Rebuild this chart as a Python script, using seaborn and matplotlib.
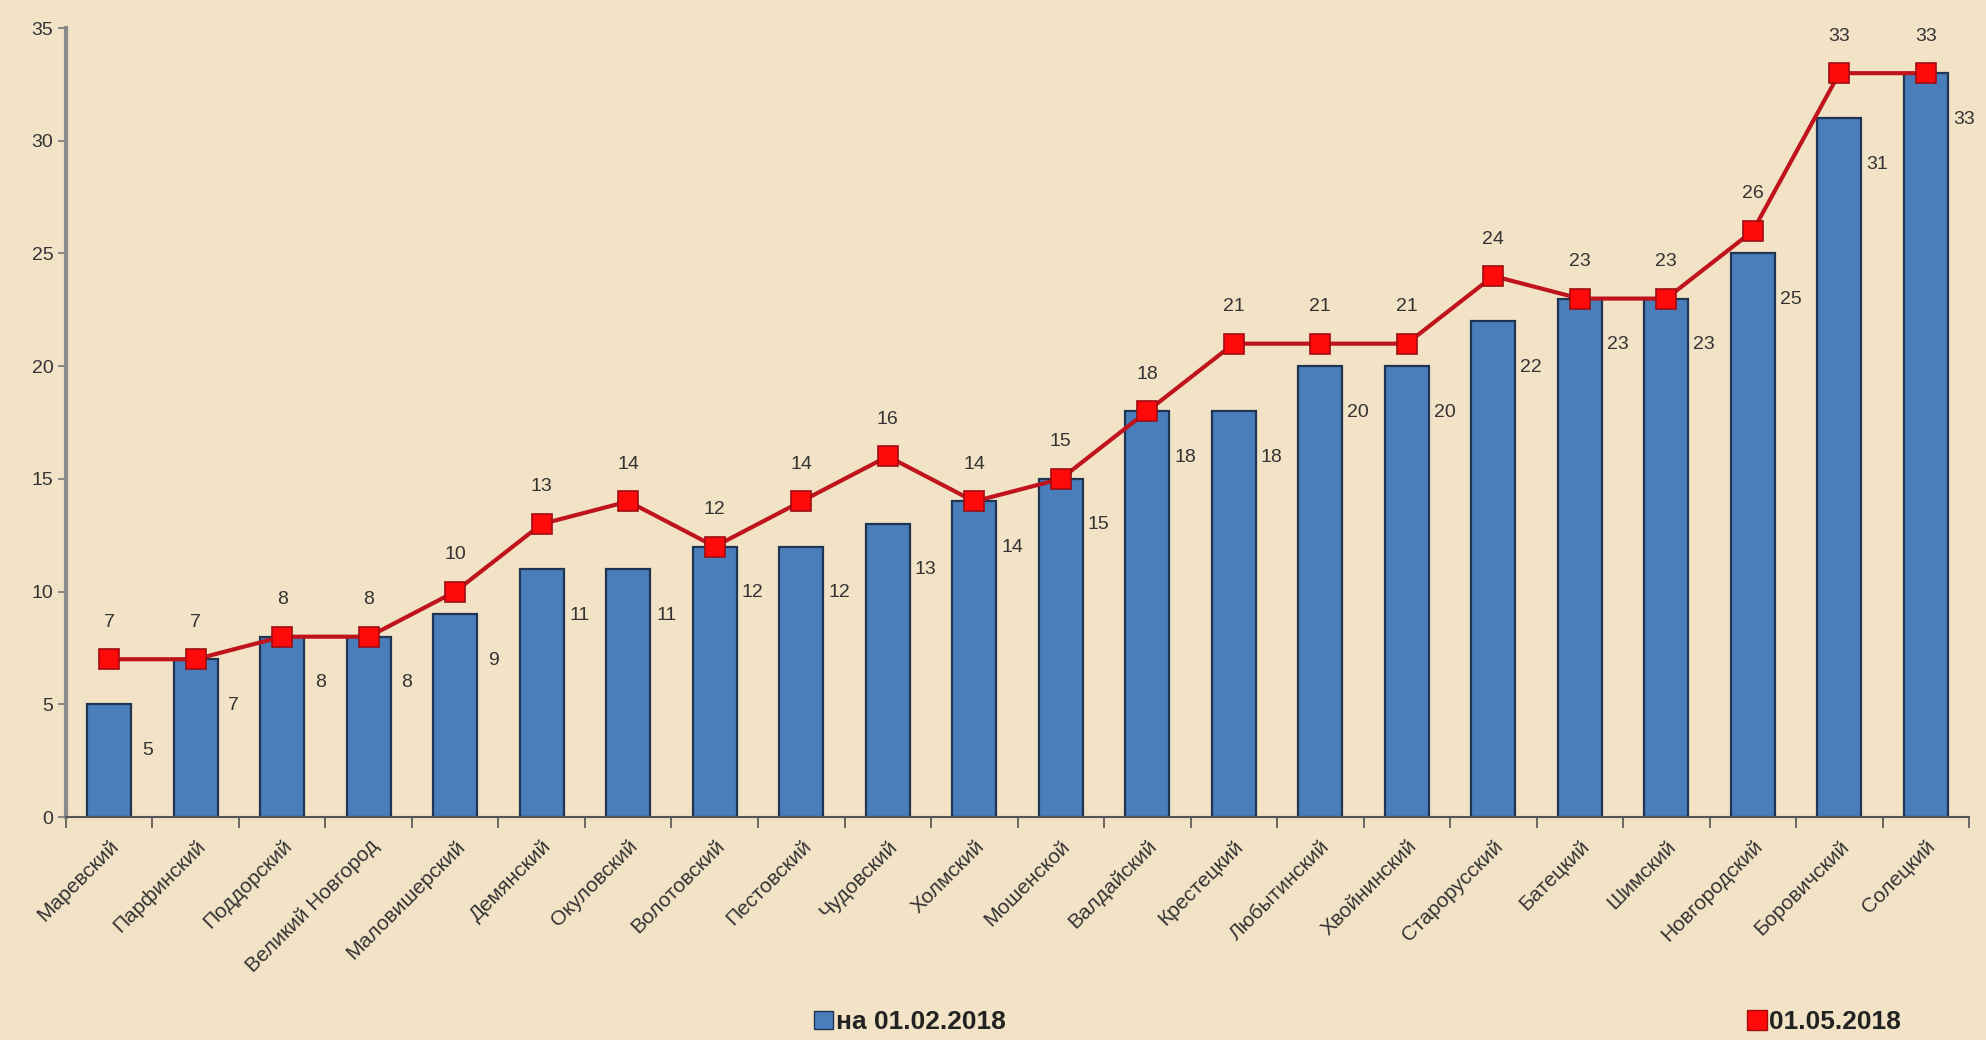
import numpy as np
import matplotlib
matplotlib.use('Agg')
import matplotlib.pyplot as plt
import seaborn as sb
from matplotlib.lines import Line2D
from matplotlib.patches import Patch

districts = ['Маревский', 'Парфинский', 'Поддорский', 'Великий Новгород',
             'Маловишерский', 'Демянский', 'Окуловский', 'Волотовский',
             'Пестовский', 'Чудовский', 'Холмский', 'Мошенской', 'Валдайский',
             'Крестецкий', 'Любытинский', 'Хвойнинский', 'Старорусский',
             'Батецкий', 'Шимский', 'Новгородский', 'Боровичский', 'Солецкий']
feb_vals = [5, 7, 8, 8, 9, 11, 11, 12, 12, 13, 14, 15, 18, 18, 20, 20, 22, 23, 23, 25, 31, 33]
may_vals = [7, 7, 8, 8, 10, 13, 14, 12, 14, 16, 14, 15, 18, 21, 21, 21, 24, 23, 23, 26, 33, 33]
series_names = ['на 01.02.2018', '01.05.2018']

bg = '#f2e3c6'
sb.set_style('white')
plt.rcParams['font.family'] = ['Liberation Sans', 'DejaVu Sans']

fig = plt.figure(figsize=(19.86, 10.40), dpi=100, facecolor=bg)
ax = fig.add_axes([0.0332, 0.2144, 0.9583, 0.7586])
ax.set_facecolor('none')

# bars
sb.barplot(x=districts, y=feb_vals, color='#4a7ebb', width=0.51,
           edgecolor='#1e3554', linewidth=1.6, saturation=1, ax=ax)

# line with square markers
xs = np.arange(len(districts))
sb.lineplot(x=xs, y=may_vals, color='#c0141c', linewidth=3, marker='s',
            markersize=15, markerfacecolor='#ff0a0a', markeredgecolor='#a00c12',
            markeredgewidth=1.2, ax=ax, zorder=5)

# value labels
for i, v in enumerate(feb_vals):
    ax.annotate(str(v), (i, v), xytext=(38, -46), textcoords='offset pixels',
                ha='center', va='center', fontsize=14, color='#333333')
for i, v in enumerate(may_vals):
    ax.annotate(str(v), (i, v), xytext=(0, 37), textcoords='offset pixels',
                ha='center', va='center', fontsize=14, color='#333333')

ax.set_xlim(-0.5, len(districts) - 0.5)
ax.set_ylim(0, 35)
ax.set_yticks(range(0, 36, 5))
ax.tick_params(axis='y', labelsize=14, labelcolor='#333333', length=6,
               color='#777777', direction='out', left=True, width=1.2, pad=3)

# category ticks sit between bars
ax.set_xticks(xs)
ax.set_xticklabels(districts, rotation=45, ha='right', rotation_mode='anchor',
                   fontsize=15, color='#333333')
ax.tick_params(axis='x', which='major', length=0, pad=14)
ax.set_xticks(np.arange(-0.5, len(districts), 1), minor=True)
ax.tick_params(axis='x', which='minor', length=8, color='#555555', width=1.2,
               bottom=True)

for s in ['top', 'right']:
    ax.spines[s].set_visible(False)
ax.spines['left'].set_color('#8a8a8a')
ax.spines['left'].set_linewidth(3)
ax.spines['bottom'].set_color('#555555')
ax.spines['bottom'].set_linewidth(1.5)

# legend entries placed apart along the bottom
h1 = Patch(facecolor='#4a7ebb', edgecolor='#1e3554', label=series_names[0])
h2 = Line2D([], [], color='#c0141c', marker='s', markersize=14,
            markerfacecolor='#ff0a0a', markeredgecolor='#a00c12',
            linestyle='none', label=series_names[1])
for h, xpos in [(h1, 0.398), (h2, 0.868)]:
    leg = fig.legend(handles=[h], loc='center left', bbox_to_anchor=(xpos, 0.017),
                     frameon=False, handlelength=0.7, handletextpad=0.12,
                     prop={'size': 19, 'weight': 'bold'})
    for t in leg.get_texts():
        t.set_color('#222222')

fig.savefig('out.png', dpi=100, facecolor=bg)
